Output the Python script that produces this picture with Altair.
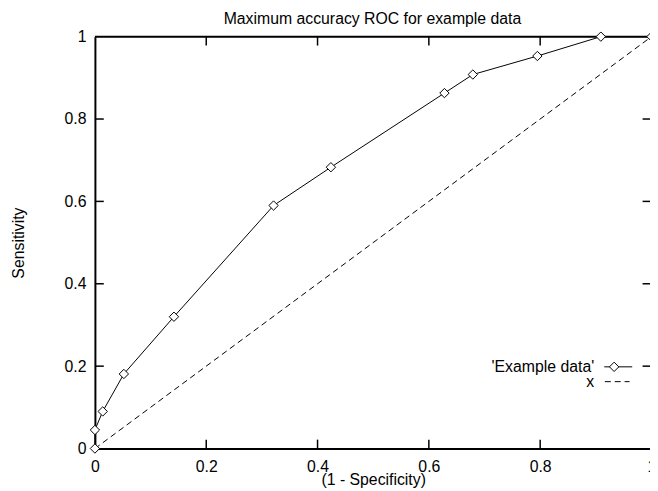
import altair as alt
import pandas as pd

# ---- data ----
fpr = [0.0, 0.0, 0.014, 0.052, 0.142, 0.321, 0.424, 0.628, 0.679, 0.795, 0.909, 1.0]
tpr = [0.0, 0.045, 0.090, 0.181, 0.320, 0.590, 0.683, 0.863, 0.908, 0.953, 1.0, 1.0]
diag_x = [0.0, 1.0]
diag_y = [0.0, 1.0]
tick_values = [0, 0.2, 0.4, 0.6, 0.8, 1]
inner_ticks = [0.2, 0.4, 0.6, 0.8]
legend_labels = ["'Example data'", "x"]
title_text = "Maximum accuracy ROC for example data"
x_title = "(1 - Specificity)"
y_title = "Sensitivity"

FONT = "Liberation Sans"
FS = 16
W = 562       # visible plot width
XR = 563.5    # x scale range (x=1 sits just past the window edge)
H = 417

roc = pd.DataFrame({"fpr": fpr, "tpr": tpr, "i": list(range(len(fpr)))})
diag = pd.DataFrame({"fpr": diag_x, "tpr": diag_y})
ticks = pd.DataFrame({"fpr": inner_ticks, "tpr": inner_ticks})
one = pd.DataFrame({"k": [0]})

xs = alt.Scale(domain=[0, 1], range=[0, XR], nice=False, zero=False)
ys = alt.Scale(domain=[0, 1], nice=False, zero=False)

x_axis = alt.Axis(
    values=tick_values, format="~g", ticks=False, tickSize=0, grid=False,
    labelPadding=10, labelFontSize=FS, labelFont=FONT, labelColor="black",
    labelFlush=False, labelOverlap=False,
    domainColor="black", domainWidth=2,
    title=x_title, titleFont=FONT, titleFontSize=FS, titleFontWeight="normal",
    titleColor="black", titleX=XR / 2, titleY=36, titleBaseline="alphabetic",
    titleAlign="center",
)
y_axis = alt.Axis(
    values=tick_values, format="~g", ticks=False, tickSize=0, grid=False,
    labelPadding=9, labelFontSize=FS, labelFont=FONT, labelColor="black",
    labelFlush=False, labelOverlap=False,
    domainColor="black", domainWidth=2,
    title=y_title, titleFont=FONT, titleFontSize=FS, titleFontWeight="normal",
    titleColor="black", titleX=-72.7, titleY=H / 2, titleAngle=270,
    titleBaseline="alphabetic", titleAlign="center",
)

X = alt.X("fpr:Q", scale=xs, axis=x_axis)
Y = alt.Y("tpr:Q", scale=ys, axis=y_axis)

diag_line = alt.Chart(diag).mark_line(
    color="black", strokeWidth=1, strokeDash=[6, 4]
).encode(x=X, y=Y)

roc_line = alt.Chart(roc).mark_line(color="black", strokeWidth=1).encode(
    x=X, y=Y, order="i:Q",
)

top_border = alt.Chart(one).mark_rule(color="black", strokeWidth=2).encode(
    x=alt.value(0), x2=alt.value(XR), y=alt.value(0)
)

tick_style = dict(color="black", strokeWidth=1.5)
bottom_ticks = alt.Chart(ticks).mark_rule(**tick_style).encode(
    x=X, y=alt.value(H), y2=alt.value(H - 9)
)
top_ticks = alt.Chart(ticks).mark_rule(**tick_style).encode(
    x=X, y=alt.value(0), y2=alt.value(9)
)
left_ticks = alt.Chart(ticks).mark_rule(**tick_style).encode(
    y=Y, x=alt.value(0), x2=alt.value(9)
)
right_ticks = alt.Chart(ticks).mark_rule(**tick_style).encode(
    y=Y, x=alt.value(XR - 9), x2=alt.value(XR)
)

roc_points = alt.Chart(roc).mark_point(
    shape="diamond", filled=True, fill="white", stroke="black",
    strokeWidth=1, size=90, opacity=1,
).encode(x=X, y=Y)

# ---- key (gnuplot style: label on the left, sample on the right) ----
text_style = dict(align="right", baseline="alphabetic", font=FONT, fontSize=FS, color="black")
key_text1 = alt.Chart(one).mark_text(**text_style).encode(
    x=alt.value(505.5), y=alt.value(339.5), text=alt.value(legend_labels[0])
)
key_text2 = alt.Chart(one).mark_text(**text_style).encode(
    x=alt.value(505.5), y=alt.value(354.5), text=alt.value(legend_labels[1])
)
key_line1 = alt.Chart(one).mark_rule(color="black", strokeWidth=1).encode(
    x=alt.value(515.7), x2=alt.value(544), y=alt.value(334.3)
)
key_point1 = alt.Chart(one).mark_point(
    shape="diamond", filled=True, fill="white", stroke="black",
    strokeWidth=1, size=90, opacity=1,
).encode(x=alt.value(525.7), y=alt.value(334.3))
key_line2 = alt.Chart(one).mark_rule(color="black", strokeWidth=1, strokeDash=[6, 4]).encode(
    x=alt.value(516.3), x2=alt.value(541.3), y=alt.value(349.3)
)

chart = alt.layer(
    diag_line, roc_line, top_border,
    bottom_ticks, top_ticks, left_ticks, right_ticks,
    roc_points,
    key_text1, key_text2, key_line1, key_line2, key_point1,
).properties(
    width=W,
    height=H,
    title=alt.TitleParams(
        title_text, font=FONT, fontSize=FS, fontWeight="normal",
        color="black", anchor="middle", offset=2,
    ),
    autosize=alt.AutoSizeParams(type="none"),
    padding={"left": 88, "top": 26, "right": 0, "bottom": 40},
).configure_view(stroke=None).configure(background="white")

chart.save("out.html", embed_options={"renderer": "svg", "actions": False})
